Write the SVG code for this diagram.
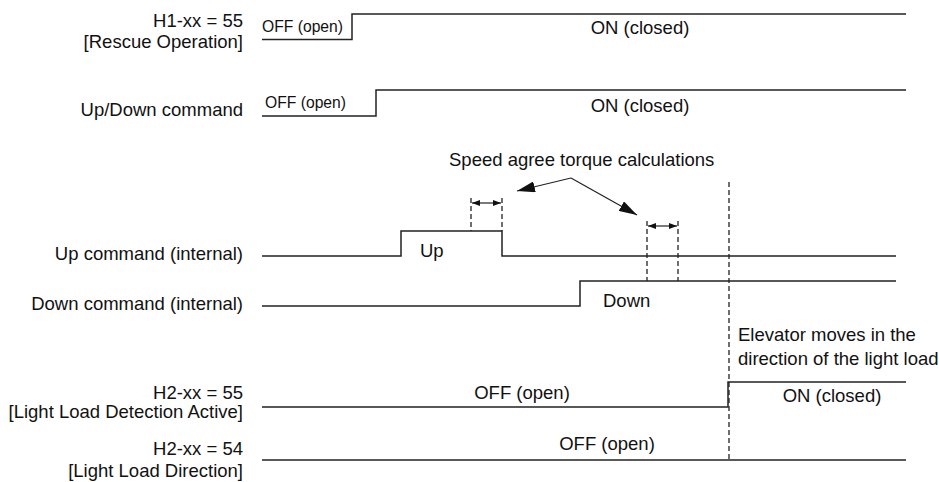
<svg xmlns="http://www.w3.org/2000/svg" width="939" height="482" viewBox="0 0 939 482">
<style>
text{font-family:"Liberation Sans",Arial,sans-serif;font-size:18.5px;fill:#111}
.r{text-anchor:end}
.m{text-anchor:middle}
.n{font-size:17px}
.sig{fill:none;stroke:#222;stroke-width:1.5}
.dash{fill:none;stroke:#222;stroke-width:1.3;stroke-dasharray:5,3}
.ptr{fill:none;stroke:#222;stroke-width:1.2}
.dim{fill:none;stroke:#222;stroke-width:1.2}
</style>
<defs>
<marker id="big" viewBox="0 0 18 11" refX="18" refY="5.5" markerWidth="18" markerHeight="11" markerUnits="userSpaceOnUse" orient="auto"><path d="M0,0 L18,5.5 L0,11 Z" fill="#111"/></marker>
<marker id="sm" viewBox="0 0 8 6" refX="8" refY="3" markerWidth="8" markerHeight="6" markerUnits="userSpaceOnUse" orient="auto-start-reverse"><path d="M0,0 L8,3 L0,6 Z" fill="#111"/></marker>
</defs>

<g id="rescue">
<text class="r" x="243" y="27">H1-xx = 55</text>
<text class="r" x="243" y="48">[Rescue Operation]</text>
<path class="sig" d="M262,39.5 H352 V14 H906"/>
<text class="n" x="262" y="32" textLength="81" lengthAdjust="spacingAndGlyphs">OFF (open)</text>
<text class="m" x="640" y="34">ON (closed)</text>
</g>

<g id="updown">
<text class="r" x="243" y="116">Up/Down command</text>
<path class="sig" d="M262,116 H376 V90 H906"/>
<text class="n" x="265" y="108" textLength="81" lengthAdjust="spacingAndGlyphs">OFF (open)</text>
<text class="m" x="640" y="112">ON (closed)</text>
</g>

<g id="up-internal">
<text class="r" x="243" y="260">Up command (internal)</text>
<path class="sig" d="M262,256 H401 V231 H502 V256 H896"/>
<text x="420" y="257">Up</text>
</g>

<g id="down-internal">
<text class="r" x="243" y="310">Down command (internal)</text>
<path class="sig" d="M262,306 H580 V281 H896"/>
<text x="603" y="307">Down</text>
</g>

<g id="light-active">
<text class="r" x="243" y="399">H2-xx = 55</text>
<text class="r" x="243" y="418">[Light Load Detection Active]</text>
<path class="sig" d="M262,407 H728 V382 H906"/>
<text class="m" x="522" y="399">OFF (open)</text>
<text class="m" x="832" y="402">ON (closed)</text>
</g>

<g id="light-direction">
<text class="r" x="243" y="455">H2-xx = 54</text>
<text class="r" x="243" y="477">[Light Load Direction]</text>
<path class="sig" d="M262,460 H906"/>
<text class="m" x="607" y="450">OFF (open)</text>
</g>

<g id="speed-agree-label">
<text x="449" y="166">Speed agree torque calculations</text>
</g>

<g id="elevator-note">
<text x="738" y="341">Elevator moves in the</text>
<text x="738" y="365">direction of the light load</text>
</g>

<g id="connectors">
<path class="ptr" d="M571,178 L517,191" marker-end="url(#big)"/>
<path class="ptr" d="M571,178 L637,215" marker-end="url(#big)"/>
<path class="dash" d="M471,198 V231 M502,198 V231"/>
<path class="dim" d="M472,203 H501" marker-start="url(#sm)" marker-end="url(#sm)"/>
<path class="dash" d="M647,221 V281 M678,221 V281"/>
<path class="dim" d="M648,226 H677" marker-start="url(#sm)" marker-end="url(#sm)"/>
<path class="dash" d="M729,182 V460"/>
</g>
</svg>
